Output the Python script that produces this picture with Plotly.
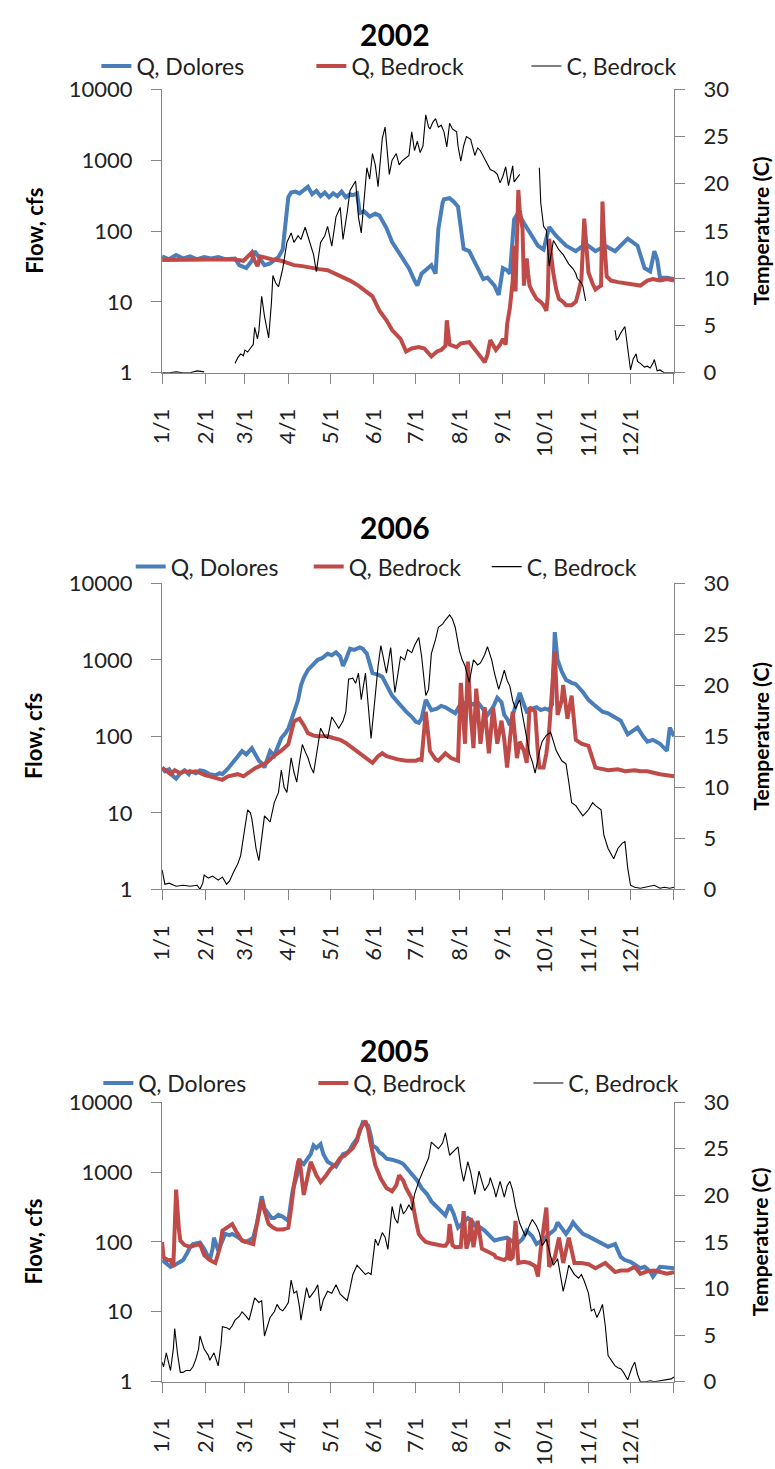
import pandas as pd
import plotly.graph_objects as go

FONT = "Lato"
BLUE = "#4A7EBB"
RED = "#BE4B48"
AXIS = "#868686"

MONTH_LABELS = ["1/1", "2/1", "3/1", "4/1", "5/1", "6/1", "7/1", "8/1", "9/1", "10/1", "11/1", "12/1", ""]
FLOW_TICKS = [1, 10, 100, 1000, 10000]
TEMP_TICKS = [0, 5, 10, 15, 20, 25, 30]

# ---------------- 2002 ----------------
dol02_day = [0, 5, 10, 15, 20, 25, 30, 35, 40, 45, 52, 55, 60, 64, 66, 69, 73, 77, 83, 86, 88, 90, 92, 95, 98, 101,
             104, 107, 110, 113, 116, 119, 122, 125, 128, 131, 134, 136, 139, 141, 144, 148, 152, 155, 160, 164, 168,
             172, 176, 180, 182, 185, 190, 192, 195, 197, 200, 201, 205, 208, 211, 215, 219, 222, 225, 229, 232, 234,
             237, 240, 243, 246, 248, 251, 254, 258, 262, 265, 268, 272, 276, 281, 288, 295, 302, 309, 316, 323, 328,
             332, 339, 342, 344, 348, 351, 353, 355, 360, 365]
dol02_q = [44, 40, 46, 41, 44, 40, 43, 41, 43, 40, 41, 33, 30, 38, 52, 42, 33, 35, 43, 55, 120, 300, 350, 360, 340, 380,
           420, 330, 370, 310, 350, 300, 340, 310, 360, 300, 330, 320, 340, 180, 190, 160, 175, 165, 110, 70, 52,
           38, 30, 20, 17, 25, 30, 33, 25, 107, 250, 280, 290, 260, 220, 56, 52, 40, 30, 21, 22, 20,
           17, 12.5, 30, 28, 25, 146, 180, 130, 96, 75, 62, 55, 114, 85, 62, 52, 66, 52, 62, 52, 65,
           78, 62, 40, 30, 27, 52, 40, 22, 22, 21]

bed02_day = [0, 10, 20, 30, 40, 50, 58, 62, 64, 66, 68, 70, 73, 78, 85, 90, 94, 100, 106, 112, 118, 124, 130, 134, 140,
             146, 150, 155, 160, 164, 170, 174, 178, 183, 187, 192, 196, 199, 202, 203, 205, 210, 213, 219, 222, 225,
             228, 230, 232, 234, 236, 238, 241, 243, 245, 246, 248, 250, 251, 252, 254, 255, 257, 258, 259, 260, 261,
             262, 264, 267, 270, 272, 274, 275, 276, 277, 279, 281, 283, 286, 288, 292, 295, 297, 299, 301, 302, 304,
             307, 309, 311, 313, 314, 315, 317, 320, 325, 330, 337, 341, 346, 350, 355, 360, 365]
bed02_q = [39, 39, 40, 39, 39, 40, 38, 45, 50, 38, 32, 44, 42, 40, 38, 35, 33, 32, 30, 29, 28, 25, 22, 20, 17,
           14, 12, 7.5, 5.5, 4, 3, 2, 2.2, 2.3, 2.2, 1.7, 2.0, 2.1, 2.4, 5.5, 2.5, 2.3, 2.6, 2.7, 2.3, 1.9,
           1.6, 1.4, 1.8, 2.9, 2.4, 2.1, 2.5, 3.0, 2.5, 4.8, 8.3, 20, 62, 14, 380, 200, 107, 17, 30, 41, 25,
           17, 14, 11, 10, 9, 7.5, 12, 78, 50, 25, 15, 11, 10, 9, 9, 10, 14, 21, 150, 90, 26,
           18, 15, 16, 17, 260, 90, 23, 20, 19, 18.5, 17.5, 17, 20, 21, 20, 21, 20]

tmp02_day = [0, 5, 10, 15, 20, 25, 30, 31,
             52, 54, 56, 58, 59, 61, 63, 65, 66, 68, 69, 71, 73, 76, 78, 79, 81, 83, 86, 89, 92, 94, 97, 99, 102, 106,
             108, 110, 113, 116, 118, 121, 124, 127, 129, 132, 134, 138, 140, 142, 144, 146, 148, 150, 152, 154, 157,
             159, 162, 164, 167, 169, 171, 174, 176, 178, 180, 182, 184, 186, 188, 190, 191, 193, 195, 197, 199, 201,
             203, 205, 207, 210, 211, 213, 215, 217, 220, 223, 225, 227, 230, 232, 234, 237, 239, 241, 243, 245, 247,
             248, 250, 251, 253, 255, 256,
             269, 270, 272, 274, 276, 279, 281, 283, 286, 288, 290, 293, 295, 296, 299, 300, 302, 303,
             323, 324, 325, 327, 330, 331, 332, 334, 336, 338, 339, 341, 344, 346, 348, 350, 351, 353, 355, 358, 362,
             365]
tmp02_c = [0, 0, 0.1, 0, 0, 0.2, 0.1, None,
           1.0, 1.6, 2.0, 1.8, 2.4, 2.2, 2.6, 3.0, 4.8, 3.6, 4.4, 8.1, 6.0, 3.7, 7.5, 10.3, 9.5, 9.1, 11, 13.8, 14.8,
           13.8, 14.5, 14.1, 15.4, 13.4, 12.5, 10.7, 13.8, 14.5, 15.5, 13.4, 16.5, 17.5, 14.1, 17, 19.3, 20.3, 16.5,
           14.8, 18, 21.7, 20.5, 23.2, 22, 19.7, 24.8, 26.0, 21, 22.5, 23.2, 22, 22.4, 22.8, 23, 25.5, 23.5, 24.5,
           23.3, 24, 27.3, 26, 25.8, 26.5, 26.9, 26, 26.2, 25.5, 23.9, 26.4, 25.8, 25.5, 24, 22.4, 24, 25, 24.7,
           23, 23.8, 23.5, 22.6, 22, 21.5, 21.3, 21, 20.1, 20.8, 21.8, 19.8, 20.5, 21.9, 20.2, 20.6, 21, None,
           21.7, 18, 15.5, 15.1, 11.3, 14, 13.5, 13, 12.5, 12, 11.5, 11, 10.5, 10, 9.5, 9.2, 7.6, None,
           4.5, 3.5, 3.6, 4.2, 4.9, 3.5, 2.6, 0.3, 1.5, 2.0, 1.2, 1.0, 0.6, 0.7, 0.5, 1.0, 1.4, 0.2, 0.3, 0, 0, 0]

# ---------------- 2006 ----------------
dol06_day = [0, 2, 5, 8, 10, 13, 16, 19, 20, 24, 27, 30, 34, 38, 41, 43, 47, 50, 54, 57, 60, 64, 66, 69, 72, 73, 75,
             77, 80, 83, 85, 88, 90, 92, 94, 97, 99, 101, 104, 108, 111, 114, 118, 121, 124, 127, 129, 131, 134, 137,
             141, 143, 146, 148, 150, 154, 157, 160, 164, 168, 171, 174, 178, 181, 183, 185, 188, 190, 192, 196, 199,
             202, 205, 209, 212, 215, 218, 222, 225, 229, 232, 236, 239, 242, 244, 246, 248, 252, 255, 258, 260, 264,
             267, 270, 273, 276, 278, 280, 282, 285, 288, 292, 295, 300, 304, 309, 314, 318, 323, 327, 332, 336, 339,
             343, 346, 350, 355, 358, 360, 362, 365]
dol06_q = [39, 35, 37, 30, 28, 33, 36, 32, 35, 33, 36, 35, 32, 31, 33, 32, 38, 44, 55, 64, 58, 70, 60, 48, 43, 39, 50,
           64, 56, 75, 95, 110, 126, 160, 210, 300, 460, 580, 740, 900, 1000, 1050, 1200, 1150, 1250, 1100, 830, 1000,
           1400, 1350, 1450, 1400, 1200, 900, 670, 640, 600, 470, 340, 280, 240, 210, 180, 155, 150, 170, 300, 260,
           220, 230, 250, 240, 220, 200, 250, 270, 280, 260, 280, 230, 190, 240, 320, 280, 190, 170, 140, 250, 370,
           260, 210, 230, 240, 220, 230, 220, 260, 2300, 1000, 700, 550, 500, 480, 380, 300, 250, 210, 200, 180, 160,
           106, 120, 130, 100, 85, 90, 80, 70, 65, 130, 100]

bed06_day = [0, 3, 6, 9, 13, 16, 20, 24, 27, 31, 34, 38, 43, 47, 50, 54, 58, 62, 66, 71, 75, 80, 85, 90, 94, 96, 98,
             101, 104, 108, 111, 116, 118, 122, 127, 131, 136, 141, 146, 148, 150, 154, 157, 160, 164, 168, 174, 178,
             181, 183, 185, 188, 191, 195, 197, 202, 206, 211, 213, 216, 218, 220, 222, 224, 226, 227, 230, 233, 236,
             238, 239, 242, 244, 246, 248, 250, 253, 255, 258, 260, 262, 264, 266, 268, 269, 272, 274, 276, 279, 280,
             282, 285, 286, 289, 292, 295, 299, 304, 309, 313, 318, 325, 330, 337, 341, 346, 351, 355, 360, 365]
bed06_q = [39, 35, 32, 36, 33, 35, 34, 35, 33, 31, 30, 29, 27, 30, 31, 32, 30, 34, 38, 42, 46, 56, 65, 79, 155, 165,
           170, 140, 110, 102, 100, 100, 100, 95, 90, 82, 70, 60, 52, 48, 45, 55, 60, 55, 52, 50, 48, 48, 48, 50, 49,
           210, 64, 50, 48, 60, 52, 48, 500, 80, 950, 200, 70, 420, 120, 80, 240, 60, 240, 120, 80, 160, 90, 39, 100,
           210, 52, 85, 65, 45, 240, 220, 210, 60, 39, 39, 60, 120, 600, 1300, 190, 300, 470, 170, 340, 90, 80, 75,
           39, 38, 36, 37, 35, 36, 35, 35, 33, 32, 31, 30]

tmp06_day = [0, 2, 5, 10, 15, 20, 25, 27, 29, 30, 33, 36, 40, 43, 46, 48, 51, 54, 56, 58, 61, 63, 64, 67, 69, 71, 73,
             75, 77, 80, 83, 85, 87, 89, 92, 94, 96, 98, 100, 102, 104, 106, 108, 111, 113, 116, 118, 121, 124, 126,
             129, 131, 133, 136, 138, 140, 142, 145, 147, 149, 152, 154, 156, 160, 163, 166, 168, 170, 173, 175, 178,
             180, 183, 185, 188, 190, 192, 195, 197, 200, 202, 205, 207, 209, 212, 214, 216, 219, 222, 225, 227, 230,
             232, 235, 237, 240, 242, 244, 246, 248, 250, 252, 255, 257, 259, 262, 264, 266, 269, 271, 274, 277, 279,
             281, 285, 288, 290, 292, 295, 297, 300, 302, 304, 307, 309, 313, 315, 318, 320, 322, 325, 328, 330, 332,
             334, 337, 341, 345, 348, 351, 355, 358, 362, 365]
tmp06_c = [1.9, 0.5, 0.6, 0.3, 0.4, 0.3, 0.4, 0, 0.6, 1.4, 1.1, 1.3, 0.9, 1.2, 0.5, 0.8, 1.7, 2.5, 3.3, 5, 7.8, 7.5,
           6.9, 4, 2.8, 5, 7.2, 6.9, 6.6, 8.5, 9.5, 11.7, 10, 9.5, 12.9, 11.5, 10.5, 12.5, 14.2, 13.5, 12.9, 12,
           11.4, 14, 15.8, 15, 14.8, 16.9, 16.2, 15.8, 16.5, 17.4, 20.6, 20.7, 20.2, 21.2, 18.6, 21.2, 18, 14.8, 19,
           21.9, 23.9, 21.2, 23.7, 19.3, 21, 22.8, 22.5, 23.5, 23.2, 23.9, 24.7, 22.9, 19, 19.6, 23.1, 24.5, 25.7,
           26, 26.4, 26.9, 26.5, 25.7, 23.4, 22.5, 21.9, 20.3, 22.5, 22, 22.2, 23, 23.8, 22.5, 21.2, 19.6, 20.5,
           21.5, 20.5, 19.9, 18.5, 17.7, 18.6, 17, 15.8, 13.3, 12.5, 11.4, 13.5, 14.5, 15.1, 15.4, 14.5, 13.6, 12.6,
           12.3, 10.5, 8.5, 8.2, 7.8, 7.2, 7.5, 7.8, 8.5, 8.2, 7.8, 5.3, 4.0, 3.5, 3.0, 4.0, 4.5, 4.7, 2.1, 0.4, 0.2,
           0.1, 0.2, 0.3, 0.4, 0.1, 0.2, 0.1, 0.2]

# ---------------- 2005 ----------------
dol05_day = [0, 3, 6, 10, 13, 15, 18, 20, 22, 25, 27, 30, 34, 36, 37, 40, 43, 45, 48, 50, 53, 56, 59, 62, 65, 68, 71,
             73, 76, 78, 80, 83, 86, 90, 93, 96, 99, 101, 104, 106, 108, 110, 113, 115, 118, 121, 124, 127, 129, 132,
             134, 136, 139, 141, 143, 145, 147, 149, 150, 153, 155, 157, 160, 164, 167, 169, 172, 175, 176, 178, 182,
             185, 189, 192, 196, 199, 202, 205, 208, 211, 215, 218, 221, 223, 227, 230, 234, 237, 241, 246, 250, 253,
             257, 260, 264, 267, 272, 276, 280, 282, 285, 288, 291, 293, 296, 300, 304, 309, 314, 318, 321, 323, 327,
             330, 334, 338, 341, 344, 348, 350, 353, 355, 360, 365]
dol05_q = [55, 50, 44, 48, 52, 55, 70, 85, 93, 95, 98, 80, 55, 80, 115, 75, 100, 130, 125, 130, 120, 110, 100, 105,
           115, 200, 450, 300, 245, 220, 220, 245, 230, 200, 530, 900, 1400, 1300, 1550, 1800, 2400, 2200, 2500, 1800,
           1400, 1300, 1200, 1500, 1800, 1900, 2100, 2500, 3000, 3800, 5100, 4800, 4600, 3200, 2400, 2200, 1900,
           1800, 1550, 1500, 1450, 1400, 1300, 1100, 1000, 900, 750, 590, 480, 380, 320, 275, 240, 340, 250, 160,
           190, 220, 200, 170, 160, 145, 120, 105, 110, 115, 100, 93, 110, 145, 120, 93, 110, 130, 150, 190, 160, 130,
           160, 190, 160, 130, 120, 105, 95, 85, 90, 93, 61, 55, 52, 47, 42, 44, 38, 32, 40, 44, 43, 42]

bed05_day = [0, 1, 4, 6, 8, 10, 12, 13, 16, 20, 24, 27, 30, 34, 38, 41, 43, 46, 50, 53, 57, 60, 65, 68, 71, 73, 76,
             79, 82, 86, 90, 92, 94, 97, 98, 101, 104, 106, 110, 113, 117, 120, 124, 127, 130, 133, 136, 139, 141, 145,
             147, 148, 150, 152, 156, 160, 164, 167, 169, 172, 174, 178, 181, 183, 185, 188, 192, 196, 200, 202, 204,
             205, 207, 209, 213, 215, 217, 219, 220, 222, 224, 225, 228, 231, 234, 237, 238, 241, 244, 246, 247, 248,
             250, 252, 254, 258, 262, 266, 268, 270, 272, 274, 276, 280, 283, 286, 290, 294, 299, 304, 309, 316, 323,
             327, 332, 337, 341, 346, 351, 355, 360, 365]
bed05_q = [100, 60, 55, 55, 44, 560, 150, 104, 90, 85, 90, 93, 65, 55, 50, 80, 145, 160, 180, 140, 104, 100, 93, 200,
           400, 280, 180, 160, 150, 150, 160, 300, 650, 1400, 1550, 470, 900, 1400, 900, 720, 900, 1100, 1300, 1600,
           1700, 1900, 2200, 2800, 4100, 5400, 4000, 3000, 2000, 1250, 800, 590, 530, 650, 900, 750, 590, 420, 200,
           130, 115, 100, 95, 90, 88, 88, 100, 180, 90, 84, 85, 275, 80, 110, 220, 84, 140, 200, 80, 75, 70, 65, 60,
           58, 55, 60, 115, 55, 60, 200, 50, 52, 50, 45, 32, 80, 160, 310, 44, 60, 115, 50, 115, 50, 50, 48, 42, 50,
           37, 39, 39, 44, 35, 38, 39, 37, 35, 37]

tmp05_day = [0, 1, 3, 5, 6, 8, 9, 11, 13, 15, 17, 20, 22, 24, 26, 27, 29, 30, 33, 34, 37, 40, 42, 43, 46, 48, 50, 52,
             55, 57, 60, 62, 64, 66, 69, 71, 73, 75, 77, 80, 82, 84, 86, 88, 90, 92, 94, 96, 98, 99, 101, 103, 105,
             107, 109, 111, 113, 115, 118, 121, 124, 127, 130, 132, 134, 136, 139, 141, 143, 145, 147, 149, 152, 154,
             157, 159, 161, 163, 164, 166, 168, 170, 172, 174, 176, 178, 180, 183, 186, 188, 190, 192, 195, 197, 200,
             202, 205, 208, 211, 213, 215, 218, 220, 223, 226, 228, 230, 233, 234, 237, 238, 241, 244, 246, 248, 250,
             252, 255, 257, 259, 262, 264, 267, 269, 271, 274, 277, 279, 282, 284, 286, 288, 290, 292, 294, 297, 299,
             301, 304, 306, 308, 310, 312, 314, 316, 318, 321, 323, 325, 327, 329, 331, 332, 335, 337, 339, 341, 345,
             348, 351, 355, 358, 360, 363, 365]
tmp05_c = [2.1, 1.6, 3.1, 2.0, 1.2, 3.5, 5.7, 3.0, 1.0, 1.0, 1.2, 1.2, 1.6, 2.4, 3.5, 4.9, 4.0, 3.5, 2.8, 2.3, 3.1,
           1.7, 4.0, 5.9, 5.8, 5.6, 6.0, 6.6, 7.0, 7.5, 7.0, 6.6, 7.8, 9.0, 8.5, 8.7, 4.9, 5.8, 6.9, 7.5, 8.3, 7.8,
           7.6, 8.0, 8.5, 10.9, 9.5, 9.7, 8.0, 6.6, 8.5, 10.1, 9.0, 9.4, 9.8, 10.4, 7.6, 8.8, 9.7, 9.5, 10.4, 9.4,
           9.0, 8.7, 10.0, 11.5, 12.5, 12.2, 11.8, 11.5, 11.7, 11.5, 15.3, 14.6, 16.0, 15.5, 14.2, 17.0, 18.8, 17.5,
           17.0, 19.1, 18.0, 18.4, 19.0, 18.4, 20.1, 21.5, 22.5, 23.3, 24, 25.7, 25.3, 25.0, 25.6, 26.7, 24.3, 24.8,
           25.2, 23, 21.5, 23.6, 22.5, 20.1, 22.6, 21.5, 20.5, 21.2, 21.9, 20.5, 19.8, 21.5, 19.8, 21, 21.5, 20.5,
           18.8, 17, 16.2, 15.6, 16.8, 17.4, 16.7, 16, 14.6, 15.3, 13.5, 12.5, 13.2, 11.5, 9.7, 11, 12.5, 12, 11.5,
           11.1, 11.5, 10.8, 9.5, 7.6, 7.8, 6.9, 7.5, 8.3, 6, 2.8, 2.2, 1.7, 1.5, 1.4, 1.0, 0.5, 0.2, 1.5, 2.1, 0.8,
           0, 0, 0.1, 0, 0.1, 0.2, 0.2, 0.3, 0.5]

panels = [
    dict(year=2002, dol=(dol02_day, dol02_q), bed=(bed02_day, bed02_q), tmp=(tmp02_day, tmp02_c),
         top=76.7, bottom=365.5, title_y=20, legend_y=53, legend_x=83, entry=170),
    dict(year=2006, dol=(dol06_day, dol06_q), bed=(bed06_day, bed06_q), tmp=(tmp06_day, tmp06_c),
         top=580, bottom=891.7, title_y=523, legend_y=563, legend_x=118, entry=133),
    dict(year=2005, dol=(dol05_day, dol05_q), bed=(bed05_day, bed05_q), tmp=(tmp05_day, tmp05_c),
         top=1108.5, bottom=1393.3, title_y=1055, legend_y=1089, legend_x=85, entry=170),
]

W, H = 775, 1469
X0, X1 = 150, 672


def py(px):
    return 1 - px / H


fig = go.Figure()
layout = dict(
    width=W, height=H, margin=dict(l=0, r=0, t=0, b=0),
    paper_bgcolor="white", plot_bgcolor="white",
    font=dict(family=FONT, size=22, color="#222222"),
    annotations=[],
)

for i, p in enumerate(panels):
    yr = p["year"]
    start = pd.Timestamp(f"{yr}-01-01")
    to_dates = lambda d: start + pd.to_timedelta(d, unit="D")
    xk = "x" if i == 0 else f"x{i + 1}"
    yl = "y" if i == 0 else f"y{2 * i + 1}"
    yr_ax = f"y{2 * i + 2}"
    lg = "legend" if i == 0 else f"legend{i + 1}"

    fig.add_trace(go.Scatter(x=to_dates(p["dol"][0]), y=p["dol"][1], mode="lines", name="Q, Dolores",
                             line=dict(color=BLUE, width=4), xaxis=xk, yaxis=yl, legend=lg))
    fig.add_trace(go.Scatter(x=to_dates(p["bed"][0]), y=p["bed"][1], mode="lines", name="Q, Bedrock",
                             line=dict(color=RED, width=4), xaxis=xk, yaxis=yl, legend=lg))
    fig.add_trace(go.Scatter(x=to_dates(p["tmp"][0]), y=p["tmp"][1], mode="lines", name="C, Bedrock",
                             line=dict(color="black", width=1.1), xaxis=xk, yaxis=yr_ax, legend=lg,
                             connectgaps=False))

    dom_y = [py(p["bottom"]), py(p["top"])]
    month_starts = [pd.Timestamp(f"{yr}-{m:02d}-01") for m in range(1, 13)] + [pd.Timestamp(f"{yr + 1}-01-01")]
    xname = "xaxis" if i == 0 else f"xaxis{i + 1}"
    ylname = "yaxis" if i == 0 else f"yaxis{2 * i + 1}"
    yrname = f"yaxis{2 * i + 2}"
    common = dict(showline=True, linecolor=AXIS, linewidth=1.3, ticks="outside", ticklen=10,
                  tickcolor=AXIS, tickwidth=1.3, showgrid=False, zeroline=False,
                  tickfont=dict(family=FONT, size=22, color="#222222"))
    layout[xname] = dict(domain=[X0 / W, X1 / W], anchor=yl, type="date",
                         range=[month_starts[0], month_starts[-1]],
                         tickmode="array", tickvals=month_starts, ticktext=MONTH_LABELS,
                         tickangle=-90, ticklabelstandoff=16, **common)
    layout[ylname] = dict(domain=dom_y, anchor=xk, type="log", range=[0, 4],
                          tickmode="array", tickvals=FLOW_TICKS, ticktext=[str(v) for v in FLOW_TICKS],
                          ticklabelstandoff=14, **common)
    layout[yrname] = dict(domain=dom_y, anchor=xk, overlaying=yl, side="right", range=[0, 30],
                          tickmode="array", tickvals=TEMP_TICKS, ticktext=[str(v) for v in TEMP_TICKS],
                          ticklabelstandoff=14, **common)

    layout[lg] = dict(orientation="h", x=p["legend_x"] / W, xanchor="left", y=py(p["legend_y"]),
                      yanchor="middle", bgcolor="rgba(0,0,0,0)", font=dict(family=FONT, size=23, color="#222222"),
                      entrywidthmode="pixels", entrywidth=p["entry"], itemwidth=30, tracegroupgap=0)

    layout["annotations"].append(dict(text=f"<b>{yr}</b>", x=387 / W, y=py(p["title_y"]),
                                      xref="paper", yref="paper", showarrow=False,
                                      font=dict(family=FONT, size=30, color="black"),
                                      xanchor="center", yanchor="middle"))
    mid = py((p["top"] + p["bottom"]) / 2)
    layout["annotations"].append(dict(text="<b>Flow, cfs</b>", x=19 / W, y=mid, xref="paper", yref="paper",
                                      showarrow=False, textangle=-90,
                                      font=dict(family=FONT, size=22, color="black"),
                                      xanchor="center", yanchor="middle"))
    layout["annotations"].append(dict(text="<b>Temperature (C)</b>", x=760 / W, y=mid, xref="paper", yref="paper",
                                      showarrow=False, textangle=-90,
                                      font=dict(family=FONT, size=21, color="black"),
                                      xanchor="center", yanchor="middle"))

fig.update_layout(**layout)
fig.write_html("out.html", config={"displayModeBar": False},
               post_script="document.body.style.margin='0px';")
